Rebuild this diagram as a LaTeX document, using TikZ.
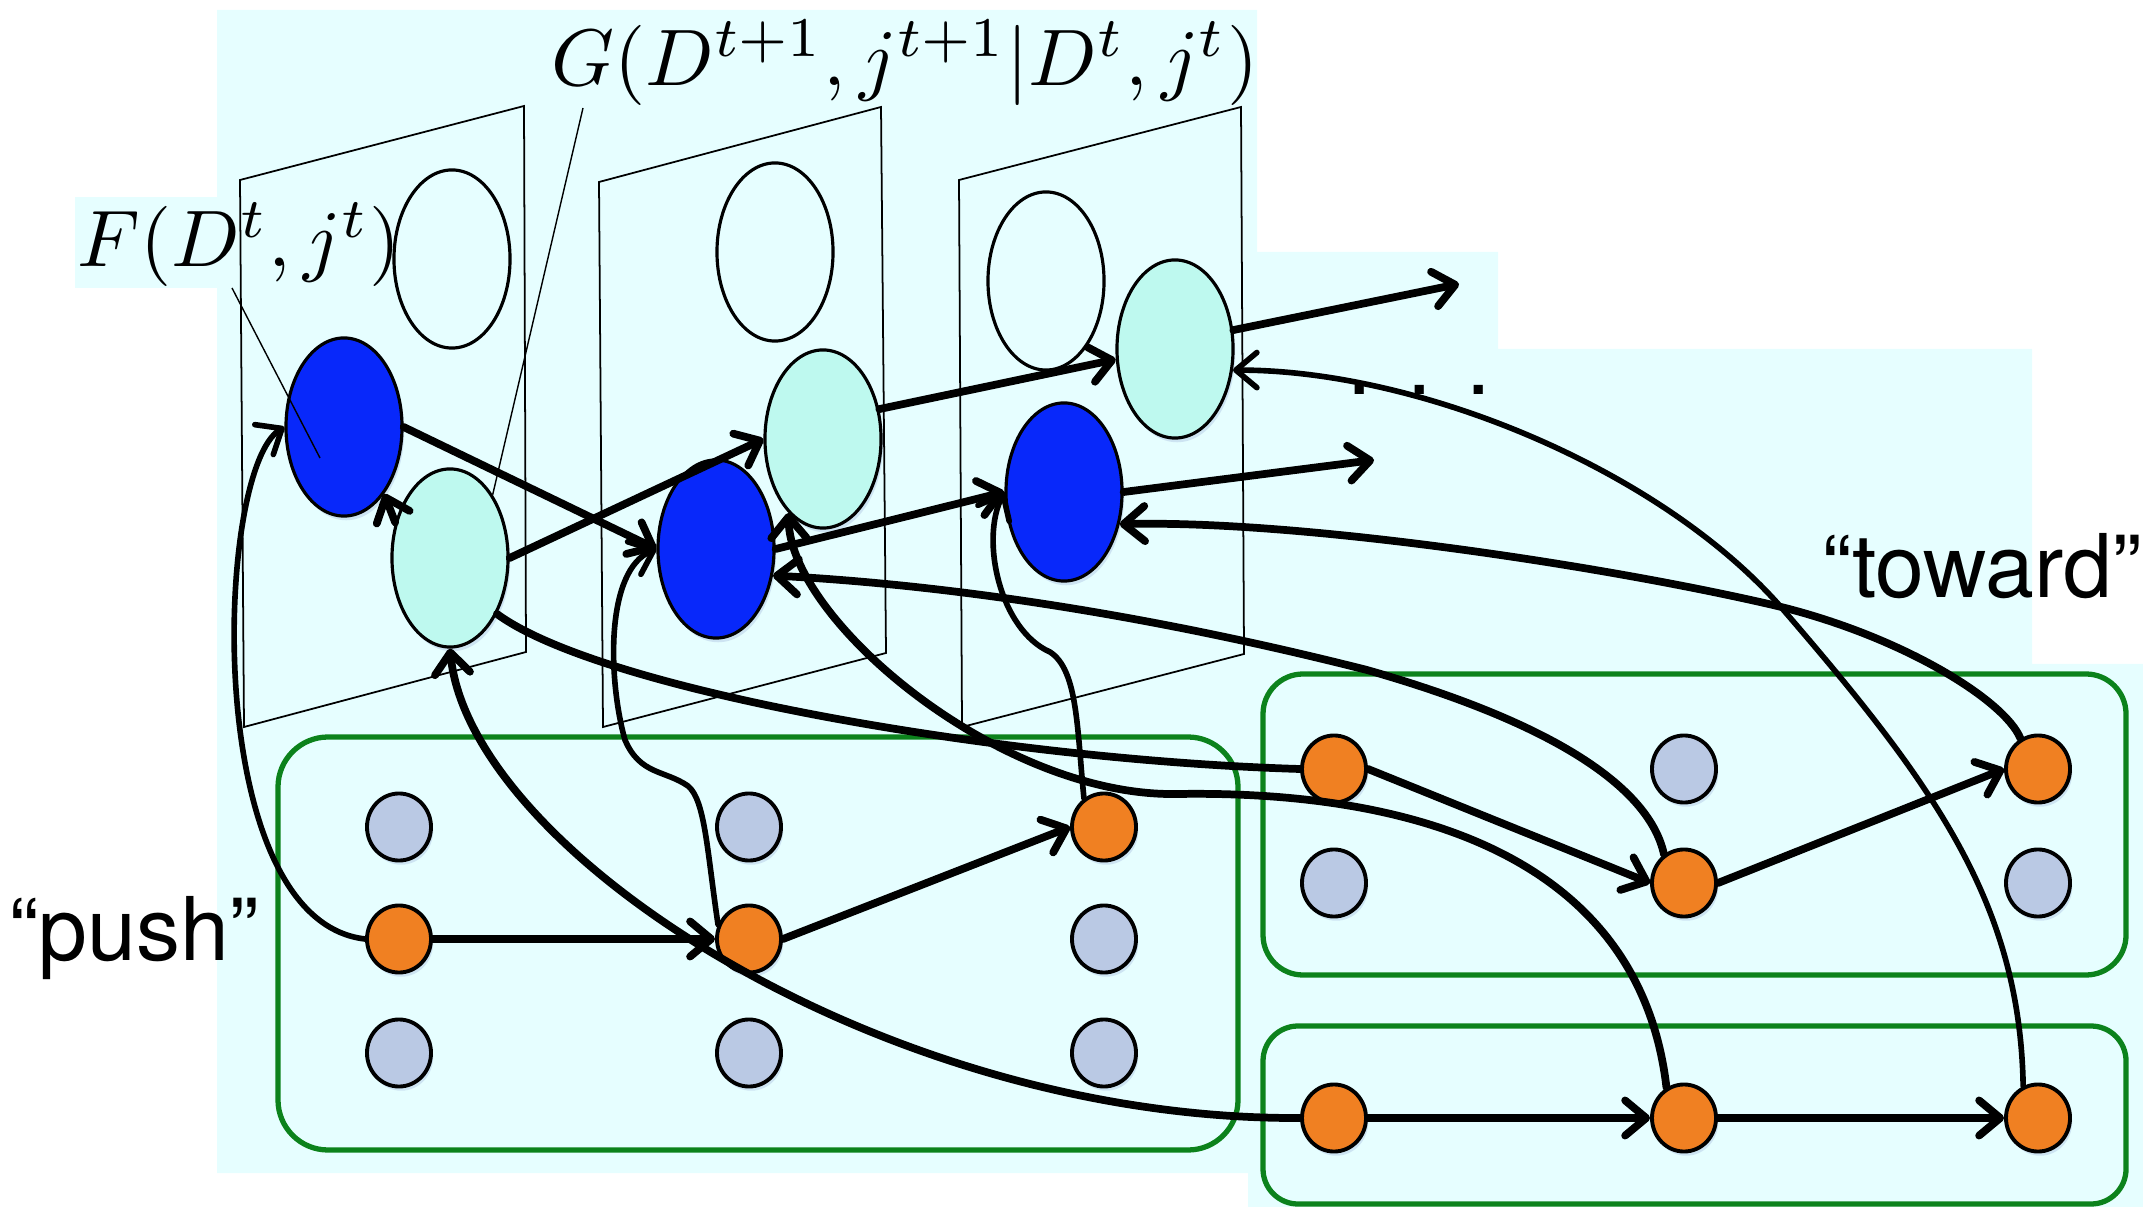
\documentclass[tikz,border=0pt]{standalone}
\usepackage{fontspec}
\newfontfamily\quotesans{TeX Gyre Heros}
\usetikzlibrary{arrows.meta,shapes.geometric,shadows}

\definecolor{paper}{RGB}{230,254,255}
\definecolor{deepblue}{RGB}{8,40,250}
\definecolor{paleteal}{RGB}{190,249,239}
\definecolor{amber}{RGB}{240,128,34}
\definecolor{mist}{RGB}{186,201,228}
\definecolor{boxgreen}{RGB}{12,130,28}
\definecolor{shade}{RGB}{120,140,200}

\tikzset{
  planeframe/.style={draw=black, line width=0.5pt},
  softshadow/.style={drop shadow={shadow xshift=0.6pt, shadow yshift=-1.2pt, opacity=0.22, fill=shade}},
  bigoval/.style={ellipse, draw=black, line width=0.9pt, inner sep=0pt,
                  minimum width=1.16cm, minimum height=1.78cm},
  smalloval/.style={ellipse, draw=black, line width=1.1pt, inner sep=0pt,
                    minimum width=0.64cm, minimum height=0.67cm, softshadow},
  groupbox/.style={draw=boxgreen, line width=1.5pt, rounded corners=0.5cm},
  arrowlink/.style={draw=black, line width=2.2pt, line cap=round,
                    -{Straight Barb[length=6pt,width=10pt,round]}},
  thinarrow/.style={arrowlink, line width=1.6pt},
  plainlink/.style={draw=black, line width=2.2pt, line cap=round},
  leaderline/.style={draw=black, line width=0.4pt},
  mathtag/.style={inner sep=0pt, scale=2.28},
  wordtag/.style={inner sep=0pt, font=\quotesans\fontsize{25}{29}\selectfont},
}

\begin{document}
\begin{tikzpicture}[x=0.01cm, y=-0.01cm]
\useasboundingbox (0,0) rectangle (2143,1207);

% pale backdrop
\fill[paper] (217,10) -- (1257,10) -- (1257,252) -- (1498,252) -- (1498,349)
  -- (2032,349) -- (2032,664) -- (2143,664) -- (2143,1207) -- (1248,1207)
  -- (1248,1173) -- (217,1173) -- cycle;
\fill[paper] (75,197) rectangle (240,288);

% three time-slice planes
\draw[planeframe] (240,180) -- (524,106) -- (526,652) -- (244,727) -- cycle;
\draw[planeframe] (599,182) -- (881,107) -- (886,653) -- (603,727) -- cycle;
\draw[planeframe] (959,180) -- (1241,107) -- (1244,654) -- (962,727) -- cycle;

% state ellipses in each plane
\node[bigoval] (W1) at (452,259) {};
\node[bigoval] (W2) at (775,252) {};
\node[bigoval] (W3) at (1046,281) {};
\node[bigoval, fill=deepblue, softshadow] (B1) at (344,427) {};
\node[bigoval, fill=deepblue, softshadow] (B2) at (716,549) {};
\node[bigoval, fill=deepblue, softshadow] (B3) at (1064,492) {};
\node[bigoval, fill=paleteal, softshadow] (T1) at (450,558) {};
\node[bigoval, fill=paleteal, softshadow] (T2) at (823,439) {};
\node[bigoval, fill=paleteal, softshadow] (T3) at (1175,349) {};

% grouping boxes
\draw[groupbox] (278,737) rectangle (1238,1150);
\draw[groupbox, rounded corners=0.4cm] (1263,674) rectangle (2126,975);
\draw[groupbox, rounded corners=0.35cm] (1263,1026) rectangle (2126,1204);

% left group: 3 x 3 grid
\node[smalloval, fill=mist]  (L11) at (399,827) {};
\node[smalloval, fill=mist]  (L12) at (749,827) {};
\node[smalloval, fill=amber] (L13) at (1104,827) {};
\node[smalloval, fill=amber] (L21) at (399,939) {};
\node[smalloval, fill=amber] (L22) at (749,939) {};
\node[smalloval, fill=mist]  (L23) at (1104,939) {};
\node[smalloval, fill=mist]  (L31) at (399,1053) {};
\node[smalloval, fill=mist]  (L32) at (749,1053) {};
\node[smalloval, fill=mist]  (L33) at (1104,1053) {};

% upper right group
\node[smalloval, fill=amber] (R11) at (1334,769) {};
\node[smalloval, fill=mist]  (R12) at (1684,769) {};
\node[smalloval, fill=amber] (R13) at (2038,769) {};
\node[smalloval, fill=mist]  (R21) at (1334,883) {};
\node[smalloval, fill=amber] (R22) at (1684,883) {};
\node[smalloval, fill=mist]  (R23) at (2038,883) {};

% lower right group
\node[smalloval, fill=amber] (Q1) at (1334,1118) {};
\node[smalloval, fill=amber] (Q2) at (1684,1118) {};
\node[smalloval, fill=amber] (Q3) at (2038,1118) {};

% labels
\node[mathtag, anchor=base west] (Glab) at (550,86) {$G(D^{t+1},j^{t+1}|D^t,j^t)$};
\node[mathtag, anchor=base west] (Flab) at (76,267) {$F(D^t,j^t)$};
\node[wordtag, anchor=base west] (push) at (9,960) {“push”};
\node[wordtag, anchor=base west] (toward) at (1822,598) {“toward”};
\node[wordtag, anchor=base west] (dots) at (1347,395) {.\hspace{0.35cm}.\hspace{0.35cm}.};

% leader lines from the labels
\coordinate (Ffoot) at (232,288);
\coordinate (Fpoint) at (320,458);
\coordinate (Gfoot) at (583,108);
\draw[leaderline] (Ffoot) -- (Fpoint);
\draw[leaderline] (Gfoot) -- (T1.56);

% open ends to later slices
\coordinate (outT) at (1459,284);
\coordinate (outB) at (1374,460);

% transitions between slices
\draw[arrowlink] (B1.east) -- (B2.west);
\draw[arrowlink] (T1.east) -- (T2.west);
\draw[arrowlink] (T1.147) -- (B1.-59);
\draw[arrowlink] (T2.28) -- (T3.190);
\draw[arrowlink] (B2.east) -- (B3.west);
\draw[arrowlink] (T3.18) -- (outT);
\draw[arrowlink] (B3.east) -- (outB);

% chains inside the groups
\draw[arrowlink] (L21.east) -- (L22.west);
\draw[arrowlink] (L22.east) -- (L13.west);
\draw[arrowlink] (R11.east) -- (R22.west);
\draw[arrowlink] (R22.east) -- (R13.west);
\draw[arrowlink] (Q1.east) -- (Q2.west);
\draw[arrowlink] (Q2.east) -- (Q3.west);

% "push" links
\draw[thinarrow] (L21.west) .. controls (200,920) and (215,470) .. (B1.west);
\draw[thinarrow] (L22.155) .. controls (707,850) and (705,800) .. (688,786)
  .. controls (665,770) and (640,775) .. (625,740)
  .. controls (608,680) and (605,570) .. (B2.west);
\draw[thinarrow] (L13.125) .. controls (1077,730) and (1078,670) .. (1050,652)
  .. controls (1000,630) and (980,540) .. (B3.west);

% "toward" links
\draw[arrowlink] (Q2.120) .. controls (1640,860) and (1420,790) .. (1177,794)
  .. controls (1000,797) and (790,620) .. (T2.245);
\draw[arrowlink] (Q1.west) .. controls (880,1120) and (470,850) .. (T1.south);
\draw[plainlink] (T1.-50) .. controls (600,690) and (1000,760) .. (R11.west);
\draw[arrowlink] (R22.125) .. controls (1650,790) and (1560,725) .. (1367,670)
  .. controls (1150,615) and (950,585) .. (B2.-25);
\draw[arrowlink] (R13.120) .. controls (2005,700) and (1900,635) .. (1773,605)
  .. controls (1600,565) and (1300,520) .. (B3.-30);
\draw[thinarrow] (Q3.115) .. controls (2020,900) and (1930,780) .. (1780,606)
  .. controls (1660,470) and (1420,370) .. (T3.-20);
\end{tikzpicture}
\end{document}
